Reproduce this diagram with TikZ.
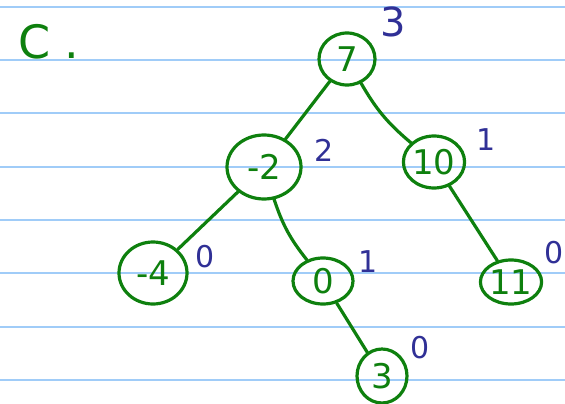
\documentclass[tikz,border=0pt]{standalone}
\usepackage{fontspec}
\setmainfont{DejaVu Sans}
\usetikzlibrary{shapes.geometric}
\definecolor{pen}{RGB}{14,128,14}
\definecolor{ink}{RGB}{48,48,150}
\definecolor{rule}{RGB}{160,204,248}
\begin{document}
\begin{tikzpicture}[x=1pt,y=-1pt,
  treenode/.style={ellipse, draw=pen, line width=3.2pt, inner sep=0pt, text=pen, font=\fontsize{34}{34}\selectfont},
  edge/.style={draw=pen, line width=3.2pt, line cap=round},
  hlabel/.style={text=ink, font=\fontsize{30}{30}\selectfont, inner sep=0pt},
  ruleline/.style={draw=rule, line width=2pt}]
\useasboundingbox (0,0) rectangle (565,404);
\foreach \y in {6.7,60,113.3,166.7,220,273.3,326.7,380} \draw[ruleline] (0,\y) -- (565,\y);

\node[text=pen, font=\fontsize{46}{46}\selectfont, anchor=west, inner sep=0pt] (title) at (18,42) {C .};

\node[treenode, minimum width=56pt, minimum height=52pt] (n7) at (347,59) {7};
\node[treenode, minimum width=74pt, minimum height=64pt] (nm2) at (264,167) {-2};
\node[treenode, minimum width=58pt, minimum height=52pt] (n10) at (434,162) {10};
\node[treenode, minimum width=68pt, minimum height=62pt] (nm4) at (153,273) {-4};
\node[treenode, minimum width=60pt, minimum height=46pt] (n0) at (323,281) {0};
\node[treenode, minimum width=60pt, minimum height=44pt] (n11) at (511,282) {11};
\node[treenode, minimum width=50pt, minimum height=54pt] (n3) at (382,376) {3};

\draw[edge] (n7) -- (nm2);
\draw[edge] (n7) to[bend right=10] (n10);
\draw[edge] (nm2) -- (nm4);
\draw[edge] (nm2) to[bend right=10] (n0);
\draw[edge] (n10) -- (n11);
\draw[edge] (n0) -- (n3);

\node[hlabel, font=\fontsize{40}{40}\selectfont] (h7) at (393,22) {3};
\node[hlabel] (hm2) at (324,150) {2};
\node[hlabel] (h10) at (486,140) {1};
\node[hlabel] (hm4) at (205,257) {0};
\node[hlabel] (h0) at (368,262) {1};
\node[hlabel] (h11) at (554,253) {0};
\node[hlabel] (h3) at (420,348) {0};
\end{tikzpicture}
\end{document}
